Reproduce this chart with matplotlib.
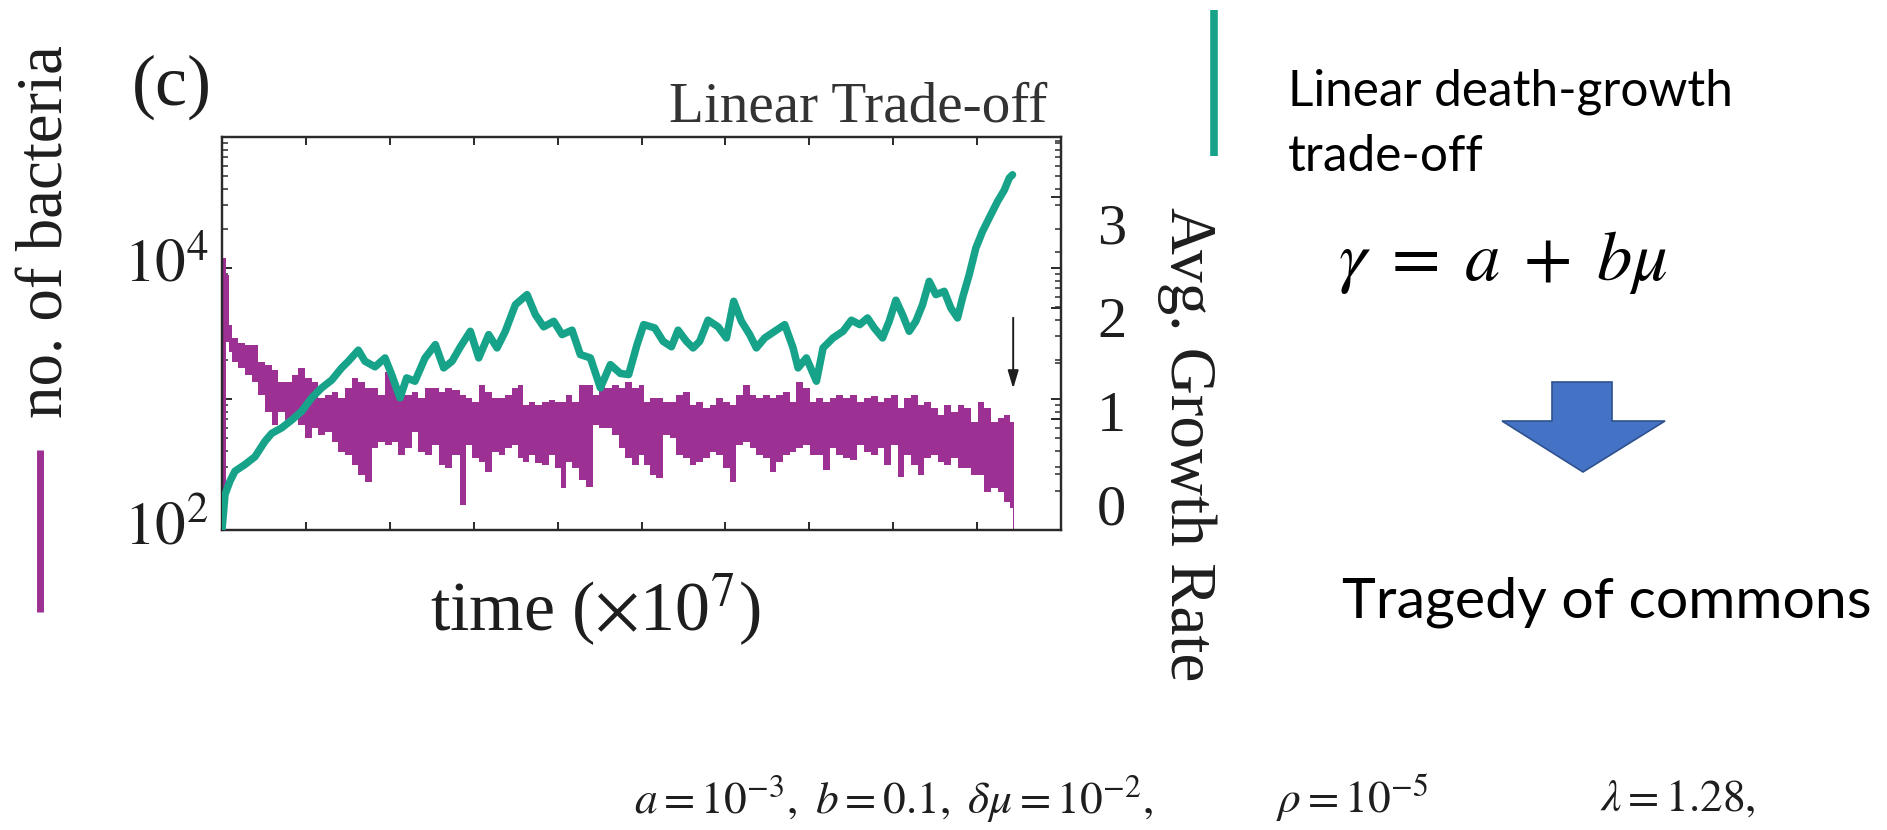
import matplotlib
matplotlib.use("Agg")
import matplotlib.pyplot as plt
from matplotlib.lines import Line2D
from matplotlib.patches import Polygon
from matplotlib.ticker import FixedLocator, LogLocator, MultipleLocator, NullFormatter
from matplotlib.transforms import ScaledTranslation

# ---------------------------------------------------------------- data
# Number of bacteria (time in units of 1e7): lower / upper extent of the
# rapidly fluctuating count at each time.
bacteria_time = [
    0.00, 0.03, 0.06, 0.095, 0.155, 0.234, 0.314, 0.393, 0.473, 0.552,
    0.632, 0.711, 0.791, 0.870, 0.950, 1.029, 1.108, 1.188, 1.267, 1.347,
    1.426, 1.506, 1.585, 1.665, 1.744, 1.824, 1.903, 1.983, 2.062, 2.141,
    2.221, 2.300, 2.380,
    2.464, 2.543, 2.623, 2.702, 2.781, 2.881, 2.940, 3.020, 3.099, 3.179,
    3.258, 3.338, 3.417, 3.497, 3.556, 3.616, 3.695, 3.775, 3.854, 3.934,
    4.013, 4.073, 4.132, 4.212, 4.291, 4.391, 4.450, 4.530, 4.609, 4.689,
    4.768, 4.847, 4.927, 5.006,
    5.058, 5.138, 5.217, 5.297, 5.376, 5.456, 5.535, 5.615, 5.694, 5.774,
    5.853, 5.932, 6.012, 6.091, 6.171, 6.250, 6.330, 6.409, 6.489, 6.568,
    6.648, 6.727, 6.807, 6.886, 6.965, 7.045, 7.124, 7.204, 7.283, 7.363,
    7.442, 7.522,
    7.615, 7.694, 7.774, 7.853, 7.933, 8.012, 8.091, 8.171, 8.250, 8.330,
    8.409, 8.489, 8.568, 8.648, 8.727, 8.807, 8.886, 8.965, 9.045, 9.124,
    9.204, 9.283, 9.363, 9.422, 9.440,
]
bacteria_high = [
    11900, 11900, 8850, 3670, 2900, 2660, 2580, 2580, 1930, 1820,
    1665, 1355, 1355, 1525, 1715, 1440, 1355, 1010, 1075, 1140,
    1010, 1205, 1440, 1355, 1205, 1205, 1075, 1620, 1355, 1140,
    1075, 1140, 1010,
    1205, 1205, 1140, 1205, 1170, 1075, 1010, 955, 1280, 1140,
    1010, 1010, 1075, 1205, 1280, 900, 955, 900, 955, 980,
    955, 955, 1075, 955, 1280, 1280, 1075, 1280, 1205, 1280,
    1205, 1355, 1205, 1280,
    955, 1010, 1010, 955, 955, 1075, 1140, 900, 955, 850,
    900, 1010, 955, 900, 1075, 1280, 1075, 1010, 1075, 1010,
    1075, 1140, 955, 1355, 1205, 955, 1010, 955, 1010, 1075,
    1010, 1075,
    955, 1010, 1045, 955, 1010, 1075, 850, 1010, 1075, 900,
    955, 850, 755, 900, 800, 900, 850, 671, 955, 850,
    671, 711, 755, 671, 671,
]
bacteria_low = [
    100, 150, 2740, 2300, 1930, 1715, 1525, 1355, 1075, 800,
    634, 800, 671, 711, 634, 501, 597, 531, 564, 472,
    396, 374, 313, 263, 234, 420, 472, 446, 472, 374,
    420, 564, 396,
    374, 446, 313, 296, 374, 155, 446, 352, 333, 279,
    396, 374, 420, 446, 352, 333, 374, 323, 313, 374,
    296, 208, 333, 296, 241, 214, 634, 597, 597, 531,
    420, 352, 313, 374,
    313, 263, 248, 531, 501, 374, 352, 313, 333, 352,
    396, 374, 296, 234, 446, 472, 420, 374, 352, 279,
    333, 374, 396, 420, 446, 374, 374, 287, 420, 374,
    352, 342,
    446, 396, 374, 420, 313, 446, 255, 374, 313, 263,
    352, 374, 333, 313, 352, 296, 296, 263, 263, 196,
    208, 196, 165, 146, 100,
]

# Average growth rate of the population.
growth_time = [
    0.000, 0.036, 0.095, 0.155, 0.274, 0.393, 0.513, 0.592, 0.711, 0.830,
    0.950, 1.069, 1.188, 1.307, 1.426, 1.506, 1.625, 1.704, 1.824, 1.943,
    2.022, 2.122, 2.201, 2.300, 2.420, 2.543, 2.642, 2.742, 2.841, 2.960,
    3.060, 3.179, 3.278, 3.377, 3.497, 3.636, 3.735, 3.834, 3.954, 4.053,
    4.172, 4.271, 4.391, 4.510, 4.629, 4.748, 4.847, 4.947, 5.026, 5.158,
    5.257, 5.357, 5.436, 5.535, 5.615, 5.694, 5.793, 5.913, 6.012, 6.099,
    6.191, 6.290, 6.369, 6.469, 6.588, 6.707, 6.807, 6.866, 6.965, 7.085,
    7.164, 7.283, 7.402, 7.502, 7.601, 7.694, 7.774, 7.873, 7.952, 8.032,
    8.111, 8.191, 8.270, 8.350, 8.429, 8.509, 8.608, 8.687, 8.767, 8.826,
    8.906, 8.985, 9.065, 9.144, 9.244, 9.323, 9.383, 9.422,
]
growth_rate = [
    0.00, 0.32, 0.44, 0.53, 0.59, 0.66, 0.80, 0.87, 0.92, 0.99,
    1.07, 1.19, 1.28, 1.35, 1.46, 1.52, 1.62, 1.52, 1.47, 1.55,
    1.40, 1.19, 1.37, 1.34, 1.55, 1.67, 1.46, 1.52, 1.65, 1.79,
    1.55, 1.76, 1.64, 1.79, 2.03, 2.12, 1.94, 1.83, 1.88, 1.76,
    1.80, 1.58, 1.55, 1.28, 1.49, 1.41, 1.40, 1.67, 1.85, 1.82,
    1.70, 1.65, 1.80, 1.70, 1.64, 1.70, 1.89, 1.83, 1.73, 2.06,
    1.88, 1.76, 1.64, 1.73, 1.79, 1.85, 1.64, 1.46, 1.55, 1.34,
    1.64, 1.73, 1.79, 1.89, 1.85, 1.91, 1.82, 1.73, 1.88, 2.07,
    1.94, 1.79, 1.88, 2.03, 2.24, 2.12, 2.15, 2.00, 1.91, 2.09,
    2.30, 2.54, 2.69, 2.81, 2.96, 3.06, 3.17, 3.20,
]

extinction_time = 9.43

time_ticks = list(range(0, 11))
count_ticks = [1e2, 1e3, 1e4, 1e5]
count_label_values = [1e2, 1e4]
count_label_text = [r"$10^{2}$", r"$10^{4}$"]
rate_ticks = [0, 1, 2, 3]
rate_label_text = ["0", "1", "2", "3"]

# ---------------------------------------------------------------- style
PURPLE = "#9d3193"
GREEN = "#17a389"
INK = "#1e1e1e"
SPINE = "#2a2a2a"
ARROW_FILL = "#4472c4"
ARROW_EDGE = "#2f528f"

plt.rcParams["font.family"] = ["Liberation Serif", "DejaVu Serif"]
plt.rcParams["mathtext.fontset"] = "stix"

W, H, DPI = 1887, 830, 100
fig = plt.figure(figsize=(W / DPI, H / DPI), dpi=DPI)
fig.patch.set_facecolor("white")
renderer = fig.canvas.get_renderer()


def fig_pt(x, y):
    """Pixel position (from the top-left corner) to figure fraction."""
    return x / W, 1 - y / H


def fit(text, size, along="width"):
    """Scale a text's font so that its extent matches the given size in px."""
    for _ in range(2):
        bb = text.get_window_extent(renderer)
        cur = bb.width if along == "width" else bb.height
        text.set_fontsize(text.get_fontsize() * size / cur)


# ---------------------------------------------------------------- axes
L, R, T, B = 222, 1061, 137, 530
ax = fig.add_axes([L / W, 1 - B / H, (R - L) / W, (B - T) / H])
ax.set_yscale("log")
ax.set_xlim(0, 10)
ax.set_ylim(1e2, 1e5)
ax.fill_between(bacteria_time, bacteria_low, bacteria_high, step="mid",
                color=PURPLE, lw=0, zorder=2)

ax2 = ax.twinx()
ax2.set_ylim(0, 3.54)
ax2.plot(growth_time, growth_rate, color=GREEN, lw=5.4,
         solid_joinstyle="round", solid_capstyle="round", zorder=3)

# the rate labels are set a little inward from their ticks
ax3 = ax.twinx()
ax3.set_ylim(-0.266, 3.915)
ax3.yaxis.set_major_locator(FixedLocator(rate_ticks))
ax3.set_yticklabels(rate_label_text)
ax3.tick_params(axis="y", length=0, pad=26, labelsize=42, labelcolor=INK)
ax3.spines[:].set_visible(False)

for a in (ax, ax2):
    for s in a.spines.values():
        s.set_color(SPINE)
        s.set_linewidth(1.6)

ax.xaxis.set_major_locator(FixedLocator(time_ticks))
ax.tick_params(axis="x", which="major", direction="in", top=True, bottom=True,
               length=6, width=1.4, color=SPINE, labelbottom=False)
ax.yaxis.set_major_locator(FixedLocator(count_ticks))
ax.yaxis.set_minor_locator(LogLocator(base=10, subs=range(2, 10)))
ax.yaxis.set_minor_formatter(NullFormatter())
ax.tick_params(axis="y", which="both", direction="in", left=True, right=True,
               color=SPINE, labelleft=False, labelright=False)
ax.tick_params(axis="y", which="major", length=7, width=1.4)
ax.tick_params(axis="y", which="minor", length=4, width=1.1)

ax2.yaxis.set_major_locator(FixedLocator(rate_ticks))
ax2.yaxis.set_minor_locator(MultipleLocator(0.5))
ax2.tick_params(axis="y", which="both", direction="in", color=SPINE,
                labelright=False)
ax2.tick_params(axis="y", which="major", length=7, width=1.4)
ax2.tick_params(axis="y", which="minor", length=4, width=1.1)

# count labels sit slightly above their ticks
left_tf = ax.get_yaxis_transform() + ScaledTranslation(-14 / DPI, -14 / DPI, fig.dpi_scale_trans)
for v, s in zip(count_label_values, count_label_text):
    ax.text(0, v, s, transform=left_tf, ha="right", va="baseline",
            fontsize=44, color=INK)

# extinction marker
ax.annotate("", xy=(extinction_time, 0.36), xycoords=("data", "axes fraction"),
            xytext=(extinction_time, 0.54), textcoords=("data", "axes fraction"),
            arrowprops=dict(arrowstyle="-|>,head_length=0.6,head_width=0.18",
                            color=INK, lw=1.4, mutation_scale=18,
                            shrinkA=0, shrinkB=0))

# ---------------------------------------------------------------- labels
t = fig.text(*fig_pt(172, 87), "(c)", ha="center", va="center", color=INK, fontsize=46)
fit(t, 80)
t = fig.text(*fig_pt(1047, 107), "Linear Trade-off", ha="right", va="center",
             color="#333333", fontsize=38)
fit(t, 379)
t = fig.text(*fig_pt(47, 232), "no. of bacteria", rotation=90, ha="center",
             va="center", color=INK, fontsize=46)
fit(t, 373, along="height")
t = fig.text(*fig_pt(1187, 444), "Avg. Growth Rate", rotation=270, ha="center",
             va="center", color=INK, fontsize=44)
fit(t, 475, along="height")
t = fig.text(*fig_pt(595, 610), r"time ($\times$10$^{7}$)", ha="center",
             va="center", color=INK, fontsize=46)
fit(t, 330)

# series key bars
fig.add_artist(Line2D([40 / W, 40 / W], [1 - 450 / H, 1 - 612 / H],
                      color=PURPLE, lw=5, solid_capstyle="butt"))
fig.add_artist(Line2D([1214 / W, 1214 / W], [1 - 10 / H, 1 - 156 / H],
                      color=GREEN, lw=5.5, solid_capstyle="butt"))

# ---------------------------------------------------------------- side notes
sans = ["Lato", "DejaVu Sans"]
t1 = fig.text(*fig_pt(1288, 92), "Linear death-growth", ha="left", va="center",
              family=sans, color="black", fontsize=36)
fit(t1, 445)
fig.text(*fig_pt(1288, 157), "trade-off", ha="left", va="center",
         family=sans, color="black", fontsize=t1.get_fontsize())

t = fig.text(*fig_pt(1503, 262), r"$\gamma\;=\;a\;+\;b\mu$", ha="center",
             va="center", color="black", fontsize=44)
fit(t, 330)

arrow_px = [(1552, 382), (1612, 382), (1612, 421), (1665, 421), (1583, 472),
            (1502, 421), (1552, 421)]
fig.add_artist(Polygon([fig_pt(x, y) for x, y in arrow_px], closed=True,
                       transform=fig.transFigure, facecolor=ARROW_FILL,
                       edgecolor=ARROW_EDGE, lw=1.2))

t = fig.text(*fig_pt(1342, 602), "Tragedy of commons", ha="left", va="center",
             family=sans, color="black", fontsize=44)
fit(t, 530)

p1 = fig.text(*fig_pt(634, 799), r"$a = 10^{-3},\ b = 0.1,\ \delta\mu = 10^{-2},$",
              ha="left", va="center", color=INK, fontsize=26)
fit(p1, 520)
fs = p1.get_fontsize()
fig.text(*fig_pt(1276, 799), r"$\rho = 10^{-5}$", ha="left", va="center",
         color=INK, fontsize=fs)
fig.text(*fig_pt(1600, 799), r"$\lambda = 1.28,$", ha="left", va="center",
         color=INK, fontsize=fs)

fig.savefig("out.png", dpi=DPI, facecolor="white")
